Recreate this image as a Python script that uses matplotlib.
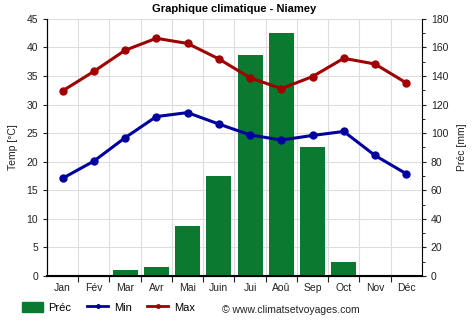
import matplotlib.pyplot as plt
import numpy as np
from matplotlib.patches import Patch
from matplotlib.lines import Line2D

# données
mois = ['Jan', 'Fév', 'Mar', 'Avr', 'Mai', 'Juin', 'Jui', 'Aoû', 'Sep', 'Oct', 'Nov', 'Déc']
t_max = [32.4, 35.8, 39.5, 41.6, 40.7, 38.0, 34.7, 32.8, 34.9, 38.1, 37.1, 33.8]
t_min = [17.1, 20.1, 24.2, 27.9, 28.6, 26.6, 24.7, 23.8, 24.6, 25.3, 21.1, 17.9]
prec = [0, 0, 4.4, 6.3, 35, 70, 155, 170, 90, 10, 0.5, 0]

vert = '#0a7a30'
bleu = '#0000a0'
rouge = '#a00000'

plt.rcParams['font.family'] = ['Liberation Sans', 'DejaVu Sans']

fig = plt.figure(figsize=(4.74, 3.31), dpi=100)
ax = fig.add_axes([0.099, 0.166, 0.791, 0.777])
ax2 = ax.twinx()

x = np.arange(len(mois))

ax2.bar(x, prec, width=0.8, color=vert, zorder=1)
ax2.set_ylim(0, 180)
ax2.set_yticks(np.arange(0, 181, 20))
ax2.set_yticks(np.arange(0, 181, 10), minor=True)
ax2.set_ylabel('Préc [mm]', fontsize=7.5, color='#222222', labelpad=6)

ax.set_zorder(ax2.get_zorder() + 1)
ax.patch.set_visible(False)
ax.plot(x, t_min, color=bleu, lw=2.2, marker='o', ms=5, zorder=3)
ax.plot(x, t_max, color=rouge, lw=2.2, marker='o', ms=5, zorder=3)
ax.set_ylim(0, 45)
ax.set_yticks(np.arange(0, 46, 5))
ax.set_xlim(-0.5, 11.5)
ax.set_xticks(x)
ax.set_xticklabels(mois)
ax.set_xticks(np.arange(0.5, 11.5, 1), minor=True)
ax.set_ylabel('Temp [°C]', fontsize=7.5, color='#222222', labelpad=6)

# grille
for v in np.arange(5, 46, 5):
    ax2.axhline(v * 4, color='#dddddd', lw=0.8, zorder=0)
for v in np.arange(0.5, 11.5, 1):
    ax2.axvline(v, color='#dddddd', lw=0.8, zorder=0)

for a in (ax, ax2):
    a.spines['top'].set_visible(False)
    a.tick_params(labelsize=7.5, colors='#222222', length=3, width=0.8)
ax.spines['right'].set_visible(False)
ax.spines['bottom'].set_linewidth(1.5)
ax.tick_params(axis='x', which='major', length=0, pad=5)
ax.tick_params(axis='x', which='minor', length=4, width=0.8, color='#222222')
ax2.tick_params(which='minor', length=2)

ax.set_title('Graphique climatique - Niamey', fontsize=8, fontweight='bold', pad=5)

# légende
handles = [Patch(color=vert, label='Préc'),
           Line2D([], [], color=bleu, lw=2, marker='o', ms=2.5, label='Min'),
           Line2D([], [], color=rouge, lw=2, marker='o', ms=2.5, label='Max')]
fig.legend(handles=handles, loc='lower left', bbox_to_anchor=(0.025, 0.025), ncol=3,
           frameon=False, fontsize=8, handlelength=1.9, handleheight=1.0,
           handletextpad=0.5, columnspacing=1.4)
fig.text(0.468, 0.055, '© www.climatsetvoyages.com', fontsize=7.5, color='#222222')

fig.savefig('out.png', dpi=100)
